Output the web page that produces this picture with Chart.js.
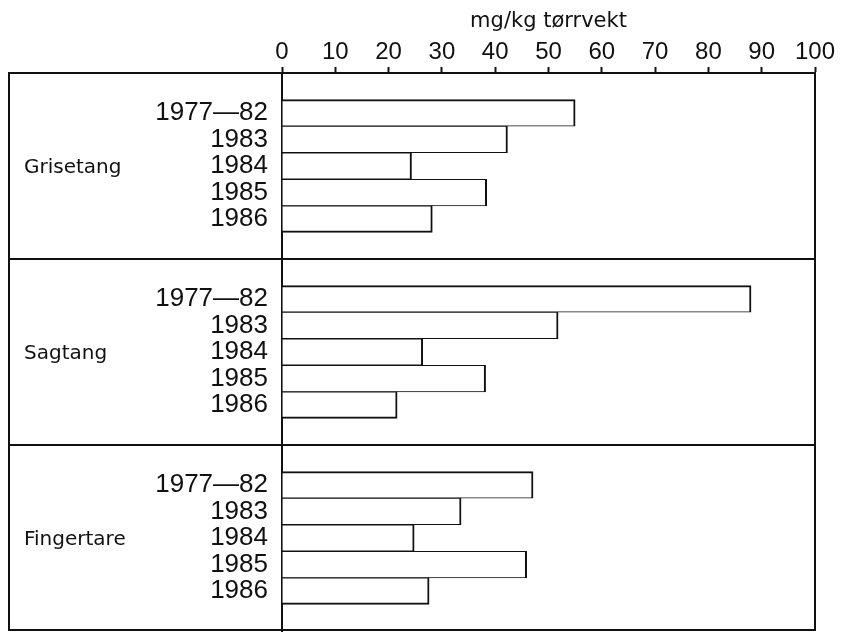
<!DOCTYPE html>
<html>
<head>
<meta charset="utf-8">
<script src="https://cdn.jsdelivr.net/npm/chart.js@4/dist/chart.umd.min.js"></script>
<style>
  html, body { margin: 0; padding: 0; background: #fff; }
  #wrap { width: 842px; height: 632px; }
</style>
</head>
<body>
<div id="wrap"><canvas id="c" width="842" height="632"></canvas></div>
<script>
// ---- data ----
const groups = ['Grisetang', 'Sagtang', 'Fingertare'];
const years = ['1977\u201482', '1983', '1984', '1985', '1986'];
const grisetang = [55.0, 42.3, 24.3, 38.4, 28.2];
const sagtang = [88.0, 51.8, 26.4, 38.2, 21.6];
const fingertare = [47.1, 33.6, 24.8, 45.9, 27.6];
const xTickValues = [0, 10, 20, 30, 40, 50, 60, 70, 80, 90, 100];
const axisTitle = 'mg/kg t\u00f8rrvekt';

// ---- build category table: blank slot, 5 years, blank slot per group ----
const seriesByGroup = [grisetang, sagtang, fingertare];
const labels = [];
const values = [];
const groupMid = [];
seriesByGroup.forEach((vals, g) => {
  labels.push(''); values.push(null);
  years.forEach((y, i) => {
    if (i === 2) groupMid.push(labels.length);
    labels.push(y); values.push(vals[i]);
  });
  labels.push(''); values.push(null);
});
const groupSize = years.length + 2;

const INK = '#111';
const FRAME_LEFT = 9;

const framePlugin = {
  id: 'frame',
  afterDraw(chart) {
    const { ctx, chartArea, scales } = chart;
    const ys = scales.y;
    ctx.save();
    ctx.strokeStyle = INK;
    ctx.lineWidth = 2;
    // outer frame
    ctx.strokeRect(FRAME_LEFT, chartArea.top, chartArea.right - FRAME_LEFT, chartArea.bottom - chartArea.top - 1);
    // group separators
    for (let g = 1; g < groups.length; g++) {
      const idx = g * groupSize;
      const y = (ys.getPixelForValue(idx - 1) + ys.getPixelForValue(idx)) / 2;
      ctx.beginPath();
      ctx.moveTo(FRAME_LEFT, y);
      ctx.lineTo(chartArea.right, y);
      ctx.stroke();
    }
    // group labels
    ctx.fillStyle = INK;
    ctx.font = '20px "DejaVu Sans"';
    ctx.textAlign = 'left';
    ctx.textBaseline = 'middle';
    groups.forEach((name, g) => {
      ctx.fillText(name, FRAME_LEFT + 15, ys.getPixelForValue(groupMid[g]) + 2);
    });
    ctx.restore();
  }
};

new Chart(document.getElementById('c'), {
  type: 'bar',
  data: {
    labels: labels,
    datasets: [{
      data: values,
      backgroundColor: '#fff',
      borderColor: INK,
      borderWidth(ctx) {
        const pos = ctx.dataIndex % groupSize;
        return {
          left: 0,
          right: 2,
          top: pos === 1 ? 2 : 1,
          bottom: pos === years.length ? 2 : 1
        };
      },
      borderSkipped: false,
      barPercentage: 1,
      categoryPercentage: 1
    }]
  },
  options: {
    indexAxis: 'y',
    responsive: false,
    animation: false,
    layout: { padding: { left: 0, right: 27, top: 0, bottom: 1 } },
    plugins: { legend: { display: false }, tooltip: { enabled: false } },
    scales: {
      x: {
        position: 'top',
        min: 0,
        max: 100,
        afterBuildTicks(scale) { scale.ticks = xTickValues.map(v => ({ value: v })); },
        afterFit(scale) { scale.height = 73; scale.paddingLeft = 0; scale.paddingRight = 0; },
        grid: { display: true, drawOnChartArea: false, drawTicks: true, tickLength: 6, tickWidth: 2, tickColor: INK },
        border: { display: true, color: INK, width: 2 },
        ticks: { font: { family: 'Liberation Sans', size: 24 }, color: INK, padding: 0, maxRotation: 0 },
        title: { display: true, text: axisTitle, font: { family: 'DejaVu Sans', size: 21 }, color: INK, padding: { top: 9, bottom: 0 } }
      },
      y: {
        afterFit(scale) { scale.width = 282; scale.paddingTop = 0; scale.paddingBottom = 0; },
        grid: { display: false, drawTicks: false },
        border: { display: true, color: INK, width: 2 },
        ticks: { autoSkip: false, font: { family: 'Liberation Sans', size: 26 }, color: INK, padding: 14 }
      }
    }
  },
  plugins: [framePlugin]
});
</script>
</body>
</html>
